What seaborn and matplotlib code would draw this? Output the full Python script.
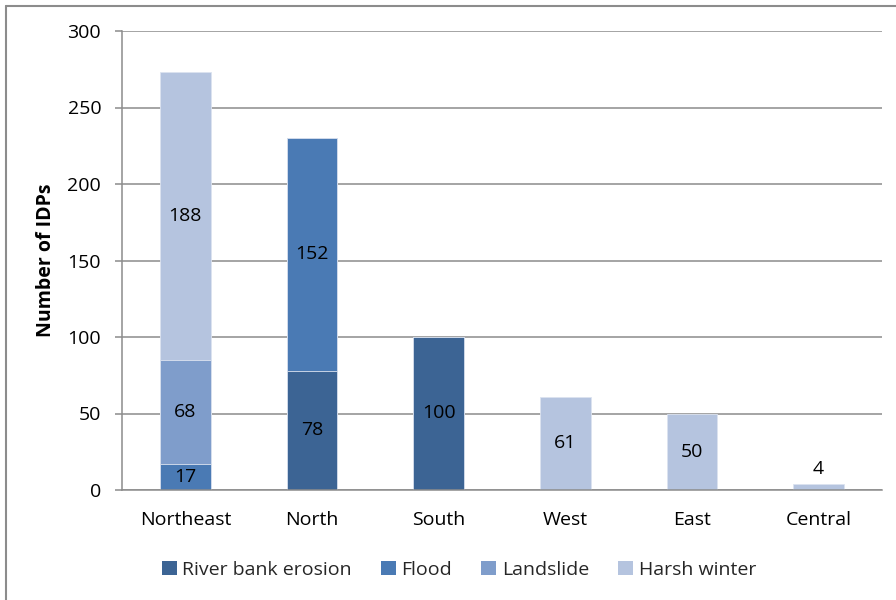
import matplotlib
matplotlib.use("Agg")
import matplotlib.pyplot as plt
import seaborn as sns
import numpy as np
import pandas as pd
from matplotlib.patches import Patch
from matplotlib.lines import Line2D

regions = ["Northeast", "North", "South", "West", "East", "Central"]
causes = ["River bank erosion", "Flood", "Landslide", "Harsh winter"]
river_bank = [0, 78, 100, 0, 0, 0]
flood = [17, 152, 0, 0, 0, 0]
landslide = [68, 0, 0, 0, 0, 0]
harsh_winter = [188, 0, 0, 61, 50, 4]
colors = ["#3C6494", "#4A7AB4", "#7F9DCB", "#B5C4DF"]

sns.set_theme(style="white")
plt.rcParams["font.family"] = ["Open Sans", "DejaVu Sans"]

FS = 14

series = [river_bank, flood, landslide, harsh_winter]
cum = np.cumsum(np.array(series, dtype=float), axis=0)

fig = plt.figure(figsize=(8.96, 6.0), dpi=100)
ax = fig.add_axes([122/896, 1-490/600, 760/896, 459/600])

for i in range(len(causes) - 1, -1, -1):
    df = pd.DataFrame({"region": regions, "value": cum[i]})
    sns.barplot(data=df, x="region", y="value", order=regions, color=colors[i],
                saturation=1, width=0.4, edgecolor="#DCE3F0", linewidth=0.6, ax=ax)

# labels
for i, s in enumerate(series):
    base = cum[i] - np.array(s)
    for j, v in enumerate(s):
        if v <= 0:
            continue
        if v < 10:
            ax.text(j, cum[i][j] + 4, str(v), ha="center", va="bottom", fontsize=FS, color="black")
        else:
            ax.text(j, base[j] + v / 2, str(v), ha="center", va="center", fontsize=FS, color="black")

ax.set_ylim(0, 300)
ax.set_xlim(-0.5, 5.5)
ax.set_yticks(np.arange(0, 301, 50))
ax.yaxis.grid(True, color="#8C8C8C", linewidth=1.1)
ax.set_axisbelow(True)
for side in ["top", "right"]:
    ax.spines[side].set_visible(False)
for side in ["left", "bottom"]:
    ax.spines[side].set_color("#8C8C8C")
    ax.spines[side].set_linewidth(1.1)

ax.set_xticks(np.arange(-0.5, 6.0, 1.0), minor=True)
ax.tick_params(axis="x", which="major", length=0, pad=15, labelsize=FS, colors="black")
ax.tick_params(axis="x", which="minor", length=5, width=1.1, color="#8C8C8C", direction="out")
ax.tick_params(axis="y", which="major", length=5, width=1.1, color="#8C8C8C", direction="out",
               left=True, pad=10, labelsize=FS, labelcolor="black")
ax.set_xlabel("")
ax.set_ylabel("Number of IDPs", fontsize=14, fontweight="bold", color="black")
ax.yaxis.set_label_coords((56 - 122) / 760, 0.5)

handles = [Patch(facecolor=c, edgecolor="none", label=l) for c, l in zip(colors, causes)]
fig.legend(handles=handles, loc="center", bbox_to_anchor=(459/896, 1-570/600), ncol=4,
           frameon=False, fontsize=FS, handlelength=0.75, handleheight=0.75,
           handletextpad=0.3, columnspacing=1.5)

# outer border (partially visible)
fig.add_artist(Line2D([6/896, 1.0], [1-6/600, 1-6/600], color="#8C8C8C", linewidth=1.5,
                      transform=fig.transFigure))
fig.add_artist(Line2D([6/896, 6/896], [0, 1-6/600], color="#8C8C8C", linewidth=1.5,
                      transform=fig.transFigure))

fig.savefig("out.png", dpi=100)
